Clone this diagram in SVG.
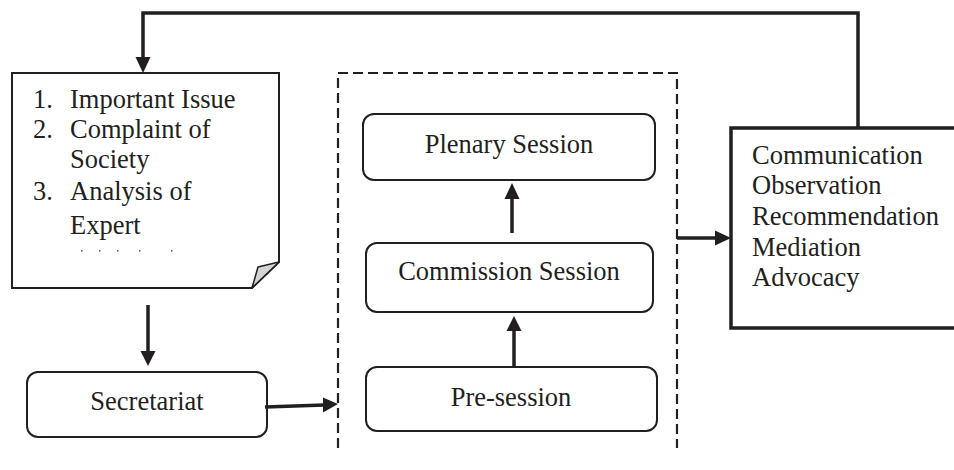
<svg xmlns="http://www.w3.org/2000/svg" width="954" height="470" viewBox="0 0 954 470">
<style>
text{font-family:'Liberation Serif','Times New Roman',serif;font-size:26.5px;fill:#231f20}
.box{fill:#fff;stroke:#231f20;stroke-width:2}
.ln{fill:none;stroke:#231f20;stroke-width:3.5}
.hd{fill:#231f20;stroke:none}
.c{text-anchor:middle}
</style>
<rect width="954" height="470" fill="#fff"/>
<g id="dashed-frame">
<path d="M338,448 V73 H677 V448" fill="none" stroke="#231f20" stroke-width="2.2" stroke-dasharray="10,5"/>
</g>
<g id="issues">
<path class="box" d="M12,73 H279 V262 L252,288 H12 Z"/>
<path d="M252,288 L258,267 L279,262 Z" fill="#d4d4d4" stroke="#231f20" stroke-width="1.5" stroke-linejoin="round"/>
<text x="33" y="108">1.</text><text x="70" y="108">Important Issue</text>
<text x="33" y="138">2.</text><text x="70" y="138">Complaint of</text>
<text x="70" y="168">Society</text>
<text x="33" y="200">3.</text><text x="70" y="200">Analysis of</text>
<text x="70" y="234">Expert</text>
<g fill="#555"><rect x="81" y="250" width="1.5" height="1.5"/><rect x="99" y="250" width="1.5" height="1.5"/><rect x="117" y="250" width="1.5" height="1.5"/><rect x="139" y="250" width="1.5" height="1.5"/><rect x="171" y="250" width="1.5" height="1.5"/></g>
</g>
<g id="secretariat">
<rect class="box" x="27" y="372" width="240" height="65" rx="11"/>
<text class="c" x="147" y="410">Secretariat</text>
</g>
<g id="plenary">
<rect class="box" x="363" y="114" width="292" height="66" rx="11"/>
<text class="c" x="509" y="153">Plenary Session</text>
</g>
<g id="commission">
<rect class="box" x="366" y="243" width="287" height="69" rx="11"/>
<text class="c" x="509" y="280">Commission Session</text>
</g>
<g id="presession">
<rect class="box" x="366" y="367" width="291" height="64" rx="11"/>
<text class="c" x="511" y="406">Pre-session</text>
</g>
<g id="outputs">
<rect x="731" y="128" width="230" height="200" fill="#fff" stroke="#231f20" stroke-width="3.5"/>
<text x="752" y="164">Communication</text>
<text x="752" y="194">Observation</text>
<text x="752" y="225">Recommendation</text>
<text x="752" y="256">Mediation</text>
<text x="752" y="286">Advocacy</text>
</g>
<g id="connectors">
<path class="ln" d="M858,128 V13 H143 V58"/>
<path class="hd" d="M135.5,57 H150.5 L143,73 Z"/>
<path class="ln" d="M148,305 V352"/>
<path class="hd" d="M140.5,351 H155.5 L148,366 Z"/>
<path class="ln" d="M265,407 L324,405"/>
<path class="hd" d="M323,397.5 L338,404 L323,412.5 Z"/>
<path class="ln" d="M514,367 V330"/>
<path class="hd" d="M506.5,331 H521.5 L514,316 Z"/>
<path class="ln" d="M512,233 V198"/>
<path class="hd" d="M504.5,199 H519.5 L512,183 Z"/>
<path class="ln" d="M677,238 H716"/>
<path class="hd" d="M715,230.5 L731,238 L715,245.5 Z"/>
</g>
</svg>
